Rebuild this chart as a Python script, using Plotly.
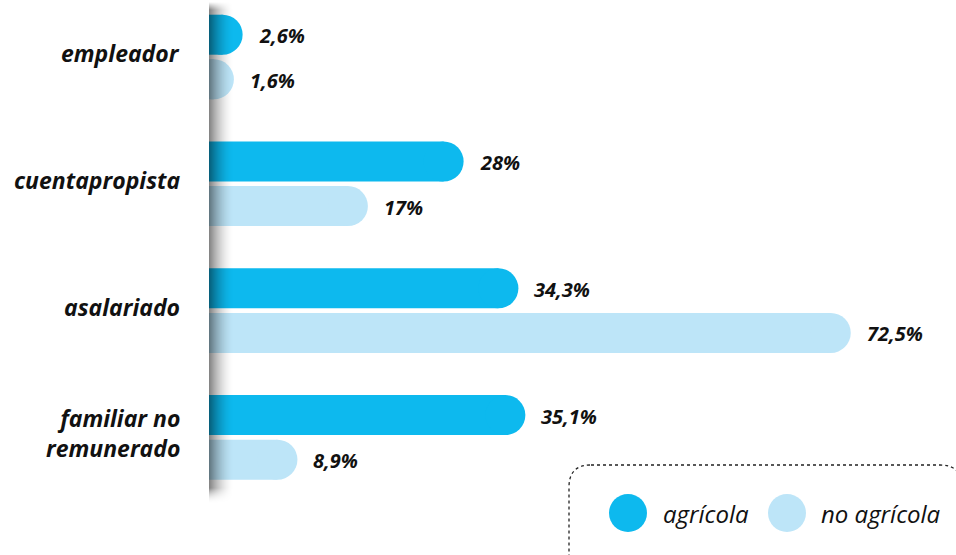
import plotly.graph_objects as go

categories = ["empleador", "cuentapropista", "asalariado", "familiar no<br>remunerado"]
agricola = [2.6, 28, 34.3, 35.1]
no_agricola = [1.6, 17, 72.5, 8.9]
labels_agricola = ["2,6%", "28%", "34,3%", "35,1%"]
labels_no_agricola = ["1,6%", "17%", "72,5%", "8,9%"]
legend_names = ["agrícola", "no agrícola"]

C_AGR = "#0DB9EE"
C_NO = "#BDE5F8"
FONT = "Open Sans"

W, H = 956, 555
ML, MR, MT, MB = 209, 0, 0, 65
PW, PH = W - ML - MR, H - MT - MB
SCALE = 8.7            # px per percentage point
XMAX = PW / SCALE
GROUP_PX = 126.8       # px per category
Y0_PX = 57             # px of first group centre
YMIN = -Y0_PX / GROUP_PX
YMAX = YMIN + PH / GROUP_PX
BAR_PX = 40
BAR_W = BAR_PX / GROUP_PX
OFF = 22.3 / GROUP_PX
CAP_SHIFT = 9 / SCALE  # circle centre offset

def px_x(p):
    return (p - ML) / PW

def px_y(p):
    return 1 - (p - MT) / PH

pos = list(range(len(categories)))
fig = go.Figure()

for vals, color, sgn, labs in [(agricola, C_AGR, -1, labels_agricola),
                               (no_agricola, C_NO, 1, labels_no_agricola)]:
    ys = [p + sgn * OFF for p in pos]
    centers = [v - CAP_SHIFT for v in vals]
    fig.add_trace(go.Bar(x=centers, y=ys, orientation="h", width=BAR_W,
                         marker=dict(color=color, line=dict(width=0)),
                         hoverinfo="skip", showlegend=False))
    fig.add_trace(go.Scatter(x=centers, y=ys, mode="markers",
                             marker=dict(size=BAR_PX, color=color, line=dict(width=0)),
                             hoverinfo="skip", showlegend=False, cliponaxis=True))
    for c, y, t in zip(centers, ys, labs):
        fig.add_annotation(x=c, y=y, xref="x", yref="y", text=t, showarrow=False,
                           xanchor="left", yanchor="middle", xshift=BAR_PX / 2 + 14, yshift=-1,
                           font=dict(family=FONT, size=20, color="#111", weight="bold", style="italic"))

# category labels
for p, cat in zip(pos, categories):
    fig.add_annotation(x=0, y=p, xref="paper", yref="y", text=cat, showarrow=False,
                       xanchor="right", yanchor="middle", align="right", xshift=-27, yshift=4,
                       font=dict(family=FONT, size=23, color="#111", weight="bold", style="italic"))

# axis shadow: horizontal gradient with soft vertical ends
N = 24
TOP, BOT, FADE = 2, 488, 8
for i in range(N):
    op = 0.48 * (1 - i / N) ** 1.7
    fig.add_shape(type="rect", xref="paper", yref="paper",
                  x0=px_x(ML + i), x1=px_x(ML + i + 1),
                  y0=px_y(BOT), y1=px_y(TOP + FADE),
                  fillcolor="black", opacity=op, line=dict(width=0), layer="above")
    for k in range(FADE):
        f = (k + 0.5) / FADE
        fig.add_shape(type="rect", xref="paper", yref="paper",
                      x0=px_x(ML + i), x1=px_x(ML + i + 1),
                      y0=px_y(TOP + k + 1), y1=px_y(TOP + k),
                      fillcolor="black", opacity=op * f, line=dict(width=0), layer="above")
    for k in range(2 * FADE):
        f = 1 - (k + 0.5) / (2 * FADE)
        fig.add_shape(type="rect", xref="paper", yref="paper",
                      x0=px_x(ML + i), x1=px_x(ML + i + 1),
                      y0=px_y(BOT + k + 1), y1=px_y(BOT + k),
                      fillcolor="black", opacity=op * f * f, line=dict(width=0), layer="above")

# legend box (rounded, dotted)
bx0, bx1, by0, by1, r = 569, 962, 465, 580, 22
pts = [
    ("M", [(bx0 + r, by0)]), ("L", [(bx1 - r, by0)]), ("Q", [(bx1, by0), (bx1, by0 + r)]),
    ("L", [(bx1, by1 - r)]), ("Q", [(bx1, by1), (bx1 - r, by1)]), ("L", [(bx0 + r, by1)]),
    ("Q", [(bx0, by1), (bx0, by1 - r)]), ("L", [(bx0, by0 + r)]), ("Q", [(bx0, by0), (bx0 + r, by0)]),
]
path = " ".join(cmd + " " + " ".join(f"{px_x(a):.5f},{px_y(b):.5f}" for a, b in p) for cmd, p in pts) + " Z"
fig.add_shape(type="path", xref="paper", yref="paper", path=path,
              line=dict(color="#222", width=1.3, dash="dot"), fillcolor="rgba(0,0,0,0)")

for name, color, cx, tx in [(legend_names[0], C_AGR, 628, 661), (legend_names[1], C_NO, 787, 819)]:
    fig.add_shape(type="circle", xref="paper", yref="paper",
                  x0=px_x(cx - 19), x1=px_x(cx + 19), y0=px_y(513 + 19), y1=px_y(513 - 19),
                  fillcolor=color, line=dict(width=0))
    fig.add_annotation(x=px_x(tx), y=px_y(513), xref="paper", yref="paper", text=name,
                       showarrow=False, xanchor="left", yanchor="middle",
                       font=dict(family=FONT, size=24, color="#111", style="italic"))

fig.update_layout(
    width=W, height=H, margin=dict(l=ML, r=MR, t=MT, b=MB),
    paper_bgcolor="white", plot_bgcolor="white", barmode="overlay",
    xaxis=dict(range=[0, XMAX], visible=False, fixedrange=True),
    yaxis=dict(range=[YMAX, YMIN], showticklabels=False,
               showgrid=False, zeroline=False, showline=False, ticks="",
               fixedrange=True),
)

fig.write_html("out.html", config={"displayModeBar": False},
               post_script="document.body.style.margin='0';document.body.style.overflow='hidden';")
